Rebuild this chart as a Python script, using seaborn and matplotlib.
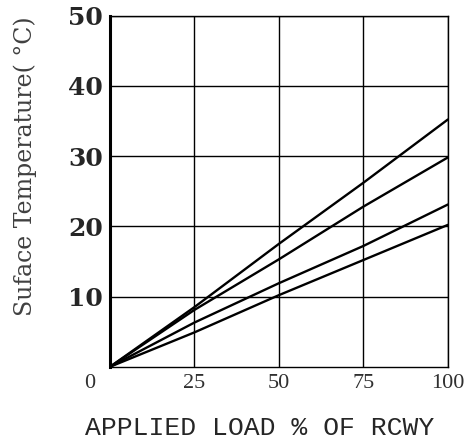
import numpy as np
import pandas as pd
import seaborn as sb
import matplotlib.pyplot as plt
import matplotlib.transforms as mtransforms

# load values
load_pct = [0, 25, 50, 75, 100]
curve_a = [0, 8.5, 17.5, 26.2, 35.2]
curve_b = [0, 8.1, 15.3, 22.8, 29.8]
curve_c = [0, 6.3, 11.9, 17.2, 23.1]
curve_d = [0, 4.9, 10.2, 15.2, 20.2]

x_ticks = [0, 25, 50, 75, 100]
y_ticks = [10, 20, 30, 40, 50]

# long form dataframe for seaborn
df = pd.DataFrame({
    'load': load_pct * 4,
    'temp': curve_a + curve_b + curve_c + curve_d,
    'curve': ['a'] * 5 + ['b'] * 5 + ['c'] * 5 + ['d'] * 5,
})

sb.set_style('white')
plt.rcParams['font.family'] = ['DejaVu Serif']

fig = plt.figure(figsize=(4.68, 4.43), dpi=100)
ax = fig.add_axes([0.235, 0.172, 0.722, 0.793])

sb.lineplot(data=df, x='load', y='temp', units='curve', estimator=None,
            color='black', linewidth=1.7, ax=ax, legend=False)

ax.set_xlim(0, 100)
ax.set_ylim(0, 50)
ax.set_xticks(x_ticks)
ax.set_yticks(y_ticks)
ax.grid(True, color='black', linewidth=1.0)
ax.set_axisbelow(False)
for side in ['top', 'right', 'bottom']:
    ax.spines[side].set_color('black')
    ax.spines[side].set_linewidth(1.0)
ax.spines['left'].set_color('black')
ax.spines['left'].set_linewidth(2.2)
ax.tick_params(length=0, pad=5)

# y ticks bold serif, x ticks lighter
for lab in ax.get_yticklabels():
    lab.set_fontsize(18)
    lab.set_fontweight('bold')
    lab.set_fontfamily('DejaVu Serif')
for lab in ax.get_xticklabels():
    lab.set_fontsize(16)
    lab.set_color('#303030')
    lab.set_fontfamily('Liberation Serif')

# the "0" sits left of the corner in the original
zero_lab = ax.get_xticklabels()[0]
zero_lab.set_transform(zero_lab.get_transform() +
                       mtransforms.ScaledTranslation(-0.2, 0, fig.dpi_scale_trans))

ax.set_xlabel('APPLIED LOAD % OF RCWY', fontsize=19, fontfamily='Liberation Mono')
ax.xaxis.set_label_coords(0.444, -0.14)
ax.set_ylabel('Suface Temperature( \u00b0C)', fontsize=17, color='#404040',
              fontfamily='DejaVu Serif')
ax.yaxis.set_label_coords(-0.215, 0.57)

plt.savefig('out.png', dpi=100)
